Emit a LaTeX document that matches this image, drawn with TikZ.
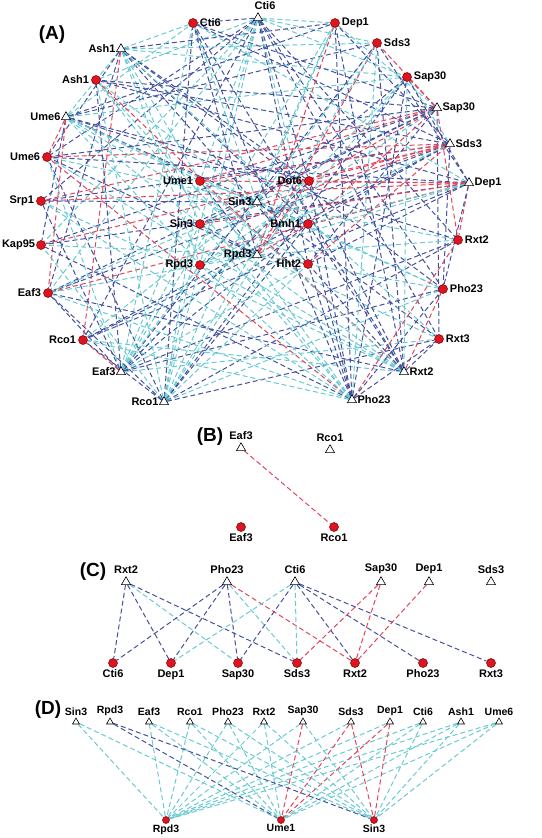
\documentclass[tikz,border=0pt]{standalone}
\usepackage{fontspec}
\setmainfont{Liberation Sans}
\usepackage{xcolor}
\usetikzlibrary{shapes.geometric,backgrounds}

\definecolor{linkRed}{HTML}{E2465A}
\definecolor{linkBlue}{HTML}{44519E}
\definecolor{linkCyan}{HTML}{6ACAD2}
\definecolor{protRed}{HTML}{DE1420}

\tikzset{
  gene/.style={regular polygon, regular polygon sides=3, draw=black, fill=white, line width=0.6pt, inner sep=0pt, minimum size=10.5pt},
  prot/.style={circle, draw=red!45!black, fill=protRed, line width=0.5pt, inner sep=0pt, minimum size=9pt},
  smallGene/.style={gene, minimum size=8pt},
  smallProt/.style={prot, minimum size=7pt},
  linkR/.style={draw=linkRed, dash pattern=on 5pt off 3pt, line width=1pt},
  linkB/.style={draw=linkBlue, dash pattern=on 5pt off 3pt, line width=1pt},
  linkC/.style={draw=linkCyan, dash pattern=on 5pt off 3pt, line width=1pt},
  every label/.style={font=\bfseries\fontsize{11}{13}\selectfont, inner sep=1pt},
  smallLabel/.style={font=\bfseries\fontsize{10.5}{12}\selectfont, inner sep=0.5pt},
  panel/.style={font=\bfseries\fontsize{19}{22}\selectfont}
}

\begin{document}
\begin{tikzpicture}[x=1pt, y=-1pt, label distance=1pt]
  \useasboundingbox (0,0) rectangle (541,838);

  % (A) full network
  \node[panel] (panelA) at (52,35) {(A)};
  \node[prot, label=right:Cti6] (cirCti6) at (193,23) {};
  \node[prot, label=right:Dep1] (cirDep1) at (335,23) {};
  \node[prot, label=right:Sds3] (cirSds3) at (377,43) {};
  \node[prot, label=right:Sap30] (cirSap30) at (407,77) {};
  \node[prot, label=left:Ash1] (cirAsh1) at (96,80) {};
  \node[prot, label=left:Ume6] (cirUme6) at (47,157) {};
  \node[prot, label=left:Srp1] (cirSrp1) at (41,201) {};
  \node[prot, label={[label distance=0pt]left:Kap95}] (cirKap95) at (41,245) {};
  \node[prot, label=left:Eaf3] (cirEaf3) at (48,293) {};
  \node[prot, label=left:Rco1] (cirRco1) at (83,340) {};
  \node[prot, label=left:Ume1] (cirUme1) at (200,181) {};
  \node[prot, label=left:Dot6] (cirDot6) at (309,181) {};
  \node[prot, label=left:Sin3] (cirSin3) at (200,224) {};
  \node[prot, label=left:Bmh1] (cirBmh1) at (308,224) {};
  \node[prot, label=left:Rpd3] (cirRpd3) at (200,265) {};
  \node[prot, label=left:Hht2] (cirHht2) at (308,264) {};
  \node[prot, label=right:Rxt2] (cirRxt2) at (458,240) {};
  \node[prot, label=right:Pho23] (cirPho23) at (443,289) {};
  \node[prot, label=right:Rxt3] (cirRxt3) at (439,339) {};

  \node[gene, label={[xshift=7pt]above:Cti6}] (triCti6) at (258,18) {};
  \node[gene, label=left:Ash1] (triAsh1) at (121,49) {};
  \node[gene, label=left:Ume6] (triUme6) at (66,117) {};
  \node[gene, label=right:Sap30] (triSap30) at (437,108) {};
  \node[gene, label=right:Sds3] (triSds3) at (450,144) {};
  \node[gene, label=right:Dep1] (triDep1) at (469,183) {};
  \node[gene, label=left:Sin3] (triSin3) at (257,202) {};
  \node[gene, label=left:Rpd3] (triRpd3) at (257,255) {};
  \node[gene, label=left:Eaf3] (triEaf3) at (121,372) {};
  \node[gene, label=left:Rco1] (triRco1) at (164,402) {};
  \node[gene, label=right:Rxt2] (triRxt2) at (404,372) {};
  \node[gene, label=right:Pho23] (triPho23) at (352,400) {};

  \begin{scope}[on background layer]
    \foreach \c/\k in {Cti6/B, Dep1/C, Sds3/C, Sap30/C, Ash1/C, Ume6/B, Srp1/B, Kap95/C, Eaf3/C, Rco1/B, Ume1/C, Dot6/B, Sin3/C, Bmh1/C, Rpd3/C, Hht2/B, Rxt2/B, Pho23/B, Rxt3/B}
      \draw[link\k] (triCti6) -- (cir\c);
    \foreach \c/\k in {Cti6/C, Dep1/B, Sds3/C, Sap30/C, Ash1/C, Ume6/B, Eaf3/B, Rco1/R, Ume1/C, Dot6/B, Sin3/C, Bmh1/B, Rpd3/C, Hht2/B, Pho23/B, Rxt3/C}
      \draw[link\k] (triAsh1) -- (cir\c);
    \foreach \c/\k in {Cti6/C, Dep1/B, Sds3/B, Sap30/C, Ash1/C, Ume6/R, Kap95/B, Eaf3/R, Ume1/C, Dot6/B, Sin3/C, Bmh1/B, Rpd3/C, Hht2/C, Rxt2/B, Pho23/C}
      \draw[link\k] (triUme6) -- (cir\c);
    \foreach \c/\k in {Cti6/B, Dep1/C, Sds3/R, Sap30/R, Ash1/B, Ume6/B, Srp1/R, Kap95/B, Eaf3/B, Ume1/R, Dot6/R, Sin3/B, Bmh1/R, Rpd3/C, Hht2/B, Rxt2/R, Rxt3/B}
      \draw[link\k] (triSap30) -- (cir\c);
    \foreach \c/\k in {Cti6/B, Dep1/B, Sap30/C, Ash1/B, Ume6/R, Srp1/B, Kap95/R, Eaf3/B, Rco1/B, Ume1/R, Dot6/R, Sin3/R, Bmh1/B, Rpd3/C, Hht2/R, Pho23/B}
      \draw[link\k] (triSds3) -- (cir\c);
    \foreach \c/\k in {Cti6/C, Sds3/B, Sap30/B, Ash1/B, Ume6/B, Srp1/R, Kap95/B, Eaf3/R, Rco1/B, Ume1/R, Dot6/R, Sin3/R, Bmh1/C, Rpd3/C, Hht2/B, Rxt2/R, Pho23/B}
      \draw[link\k] (triDep1) -- (cir\c);
    \foreach \c/\k in {Cti6/C, Dep1/C, Sds3/C, Sap30/B, Ash1/C, Ume6/C, Srp1/B, Eaf3/C, Rco1/C, Ume1/C, Dot6/C, Bmh1/C, Rpd3/C, Hht2/C, Rxt2/C, Pho23/C, Rxt3/B}
      \draw[link\k] (triSin3) -- (cir\c);
    \foreach \c/\k in {Cti6/B, Dep1/R, Sds3/R, Sap30/C, Ash1/C, Ume6/B, Kap95/C, Eaf3/C, Rco1/B, Ume1/B, Dot6/R, Sin3/B, Bmh1/R, Hht2/R, Rxt2/C, Pho23/C, Rxt3/C}
      \draw[link\k] (triRpd3) -- (cir\c);
    \foreach \c/\k in {Cti6/C, Dep1/C, Sds3/B, Sap30/C, Ash1/B, Ume6/C, Srp1/B, Eaf3/B, Rco1/R, Ume1/C, Dot6/B, Sin3/C, Bmh1/B, Rpd3/C, Hht2/C, Rxt2/B, Pho23/B, Rxt3/C}
      \draw[link\k] (triEaf3) -- (cir\c);
    \foreach \c/\k in {Cti6/B, Dep1/C, Sds3/C, Sap30/B, Ash1/C, Ume6/B, Kap95/C, Eaf3/B, Rco1/B, Ume1/C, Dot6/C, Sin3/C, Bmh1/B, Rpd3/C, Hht2/C, Rxt2/B, Pho23/C, Rxt3/B}
      \draw[link\k] (triRco1) -- (cir\c);
    \foreach \c/\k in {Cti6/B, Dep1/B, Sds3/B, Sap30/C, Ash1/R, Ume6/C, Srp1/C, Eaf3/B, Rco1/C, Ume1/C, Dot6/B, Sin3/C, Bmh1/B, Rpd3/C, Hht2/B, Pho23/R, Rxt3/B}
      \draw[link\k] (triRxt2) -- (cir\c);
    \foreach \c/\k in {Cti6/B, Dep1/B, Sds3/C, Sap30/B, Ash1/C, Ume6/R, Srp1/C, Kap95/B, Eaf3/C, Rco1/C, Ume1/C, Dot6/B, Sin3/C, Bmh1/B, Rpd3/C, Hht2/B, Rxt2/R, Pho23/B, Rxt3/B}
      \draw[link\k] (triPho23) -- (cir\c);
  \end{scope}

  % (B)
  \node[panel] (panelB) at (210,437) {(B)};
  \node[gene, label=above:Eaf3] (bTriEaf3) at (241,448) {};
  \node[gene, label=above:Rco1] (bTriRco1) at (330,450) {};
  \node[prot, label=below:Eaf3] (bCirEaf3) at (241,527) {};
  \node[prot, label=below:Rco1] (bCirRco1) at (334,527) {};
  \draw[linkR] (bTriEaf3) -- (bCirRco1);

  % (C)
  \node[panel] (panelC) at (93,572) {(C)};
  \foreach \g/\x in {Rxt2/126, Pho23/227, Cti6/295, Sap30/381, Dep1/429, Sds3/491}
    \node[gene, label=above:\g] (cTri\g) at (\x,582) {};
  \foreach \p/\x in {Cti6/113, Dep1/171, Sap30/238, Sds3/297, Rxt2/355, Pho23/423, Rxt3/491}
    \node[prot, label=below:\p] (cCir\p) at (\x,663) {};
  \begin{scope}[on background layer]
    \foreach \g/\p/\k in {Rxt2/Cti6/B, Rxt2/Dep1/B, Rxt2/Sap30/C, Rxt2/Sds3/B,
        Pho23/Cti6/B, Pho23/Dep1/B, Pho23/Sap30/B, Pho23/Sds3/C, Pho23/Rxt2/R,
        Cti6/Dep1/C, Cti6/Sap30/B, Cti6/Sds3/C, Cti6/Rxt2/B, Cti6/Pho23/B, Cti6/Rxt3/B,
        Sap30/Sds3/R, Sap30/Rxt2/R, Dep1/Rxt2/R}
      \draw[link\k] (cTri\g) -- (cCir\p);
  \end{scope}

  % (D)
  \node[panel] (panelD) at (48,710) {(D)};
  \foreach \g/\x in {Sin3/76, Rpd3/110, Eaf3/149, Rco1/190, Pho23/228, Rxt2/264, Sap30/303, Sds3/351, Dep1/390, Cti6/423, Ash1/461, Ume6/499}
    \node[smallGene, label={[smallLabel]above:\g}] (dTri\g) at (\x,722) {};
  \foreach \p/\x in {Rpd3/166, Ume1/281, Sin3/374}
    \node[smallProt, label={[smallLabel, label distance=0pt]below:\p}] (dCir\p) at (\x,820) {};
  \begin{scope}[on background layer]
    \foreach \g/\k in {Sin3/C, Eaf3/C, Rco1/C, Pho23/C, Rxt2/C, Sap30/C, Sds3/C, Dep1/C, Cti6/C, Ash1/C, Ume6/C}
      \draw[link\k] (dTri\g) -- (dCirRpd3);
    \foreach \g/\k in {Sin3/C, Rpd3/B, Eaf3/C, Rco1/C, Pho23/C, Rxt2/C, Sap30/R, Sds3/R, Dep1/R, Cti6/C, Ash1/C, Ume6/C}
      \draw[link\k] (dTri\g) -- (dCirUme1);
    \foreach \g/\k in {Rpd3/B, Eaf3/C, Rco1/C, Pho23/C, Rxt2/C, Sap30/C, Sds3/R, Dep1/R, Cti6/C, Ash1/C, Ume6/C}
      \draw[link\k] (dTri\g) -- (dCirSin3);
  \end{scope}
\end{tikzpicture}
\end{document}
